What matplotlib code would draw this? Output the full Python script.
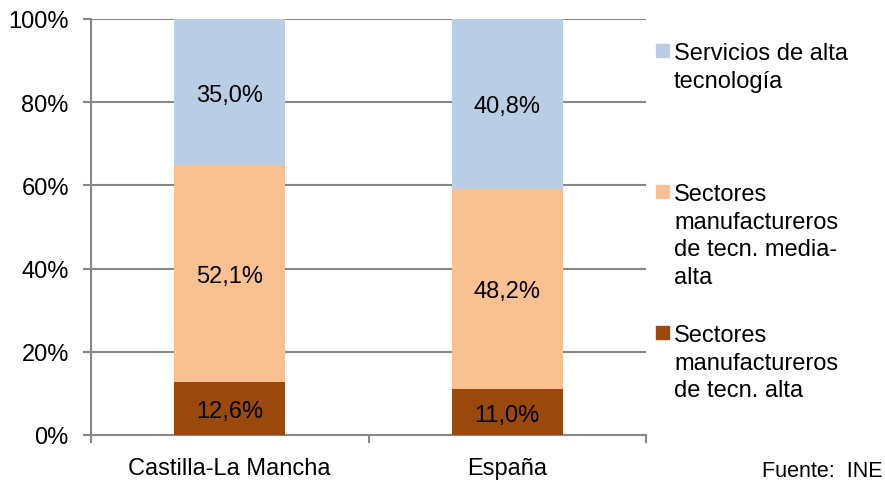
import matplotlib.pyplot as plt
import matplotlib.patches as mpatches
import numpy as np

plt.rcParams['font.family'] = ['Liberation Sans', 'DejaVu Sans']

regiones = ['Castilla-La Mancha', 'España']
series = ['Sectores\nmanufactureros\nde tecn. alta',
          'Sectores\nmanufactureros\nde tecn. media-\nalta',
          'Servicios de alta\ntecnología']
alta = [12.6, 11.0]
media_alta = [52.1, 48.2]
servicios = [35.0, 40.8]
colores = ['#9A480B', '#F9C091', '#B9CDE5']

valores = np.array([alta, media_alta, servicios])
# 100% stacked, like the original spreadsheet chart
normal = valores / valores.sum(axis=0) * 100

fig = plt.figure(figsize=(8.85, 4.81), dpi=100)
ax = fig.add_axes([91 / 885, 1 - 436 / 481, (646 - 91) / 885, (436 - 20) / 481])

fs = 17
x = np.arange(len(regiones))
bottom = np.zeros(len(regiones))
for i in range(len(series)):
    ax.bar(x, normal[i], width=0.4, bottom=bottom, color=colores[i], zorder=3)
    for j in range(len(regiones)):
        etiqueta = f"{valores[i][j]:.1f}%".replace('.', ',')
        ax.text(x[j], bottom[j] + normal[i][j] / 2, etiqueta, ha='center', va='center_baseline',
                fontsize=fs, color='black', zorder=4)
    bottom += normal[i]

ax.set_xlim(-0.5, 1.5)
ax.set_ylim(0, 100)
ax.set_yticks(np.arange(0, 101, 20))
ax.set_yticklabels([f"{v}%" for v in range(0, 101, 20)], fontsize=fs)
ax.yaxis.grid(True, color='#878787', linewidth=1.5, zorder=0)

ax.set_xticks([-0.5, 0.5, 1.5])
ax.set_xticklabels([])
ax.set_xticks(x, minor=True)
ax.set_xticklabels(regiones, minor=True, fontsize=fs)
ax.tick_params(axis='x', which='minor', length=0, pad=16)
ax.tick_params(axis='x', which='major', length=6, width=1.5, color='#878787')
ax.tick_params(axis='y', length=6, width=1.5, color='#878787', pad=10)

for lado in ['top', 'right']:
    ax.spines[lado].set_visible(False)
for lado in ['left', 'bottom']:
    ax.spines[lado].set_color('#878787')
    ax.spines[lado].set_linewidth(1.5)

# legend, markers aligned with first line of each entry
leyenda_y = [45, 186, 327]
orden = [2, 1, 0]
for k, idx in enumerate(orden):
    y0 = leyenda_y[k]
    fig.patches.append(mpatches.Rectangle((656 / 885, 1 - (y0 + 13) / 481), 13 / 885, 13 / 481,
                                          transform=fig.transFigure, color=colores[idx]))
    fig.text(674 / 885, 1 - (y0 - 2) / 481, series[idx], fontsize=fs, va='top', ha='left',
             linespacing=1.33)

fig.text(882 / 885, 1 - 472 / 481, 'Fuente:  INE', fontsize=15.5, ha='right', va='center')

fig.savefig('out.png', dpi=100)
